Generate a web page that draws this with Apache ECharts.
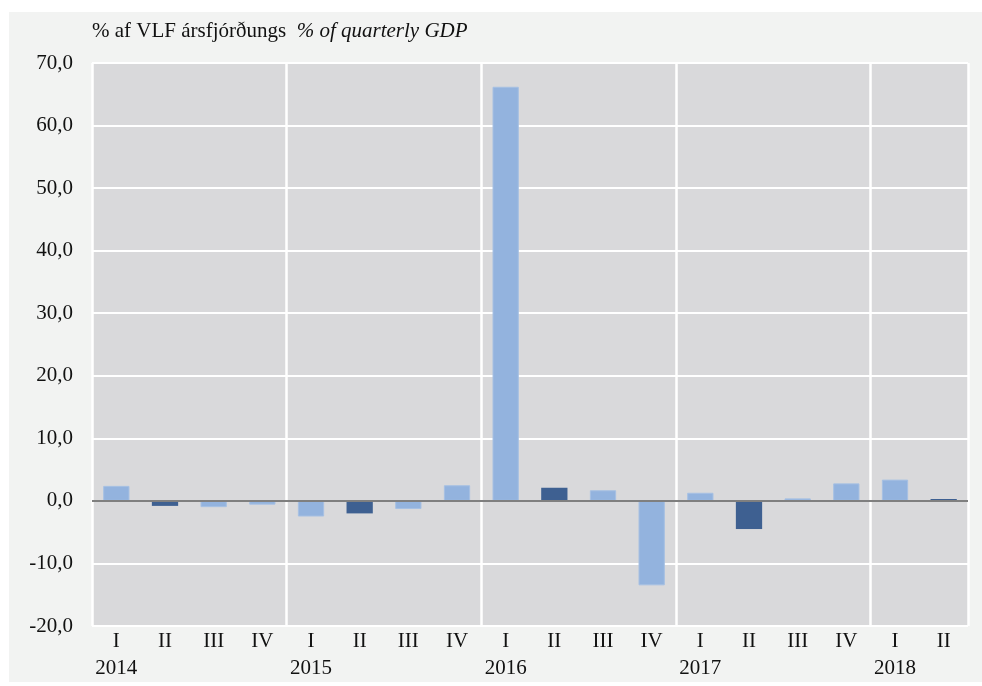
<!DOCTYPE html>
<html>
<head>
<meta charset="utf-8">
<script src="https://cdn.jsdelivr.net/npm/echarts@6/dist/echarts.min.js"></script>
</head>
<body style="margin:0; background:#ffffff;">
<div id="main" style="position:absolute; left:9px; top:12px; width:973px; height:670px; background:#f2f3f2;"></div>
<script type="text/javascript">
// ársfjórðungar og ár
var quarters = ['I', 'II', 'III', 'IV', 'I', 'II', 'III', 'IV', 'I', 'II', 'III', 'IV', 'I', 'II', 'III', 'IV', 'I', 'II'];
var years = ['2014', '', '', '', '2015', '', '', '', '2016', '', '', '', '2017', '', '', '', '2018', ''];
var values = [2.4, -0.8, -1.0, -0.6, -2.5, -2.0, -1.3, 2.5, 66.2, 2.1, 1.7, -13.5, 1.3, -4.5, 0.4, 2.8, 3.4, 0.3];
var darkIdx = [1, 5, 9, 13, 17];   // II ársfjórðungur dekkri
var yTicks = { min: -20, max: 70, interval: 10 };

var categories = quarters.map(function (q, i) { return q + '\n' + years[i]; });

var myChart = echarts.init(document.getElementById('main'));
var option = {
    animation: false,
    textStyle: { fontFamily: 'Liberation Serif' },
    title: {
        text: '% af VLF ársfjórðungs  {i|% of quarterly GDP}',
        left: 78,
        top: 4,
        textStyle: {
            fontSize: 21, fontWeight: 'normal', color: '#111', fontFamily: 'Liberation Serif',
            rich: { i: { fontStyle: 'italic', fontSize: 21, color: '#111', fontFamily: 'Liberation Serif' } }
        }
    },
    grid: {
        left: 83, right: 14, top: 51, bottom: 56,
        outerBoundsMode: 'none',
        show: true, backgroundColor: '#d9d9db', borderWidth: 0
    },
    xAxis: {
        type: 'category',
        data: categories,
        axisLine: { show: false },
        axisTick: { show: false },
        splitLine: {
            show: true,
            interval: function (i) { return i % 4 === 0; },
            lineStyle: { color: '#ffffff', width: 2.5 }
        },
        axisLabel: {
            interval: 0,
            margin: 2,
            color: '#111',
            fontSize: 21,
            lineHeight: 27,
            fontFamily: 'Liberation Serif'
        }
    },
    yAxis: {
        type: 'value',
        min: yTicks.min, max: yTicks.max, interval: yTicks.interval,
        axisLine: { show: false },
        axisTick: { show: false },
        splitLine: { lineStyle: { color: '#ffffff', width: 2 } },
        axisLabel: {
            color: '#111', fontSize: 21, margin: 19, fontFamily: 'Liberation Serif',
            formatter: function (v) { return v.toFixed(1).replace('.', ','); }
        }
    },
    series: [{
        type: 'bar',
        barWidth: '54%',
        data: values.map(function (v, i) {
            return {
                value: v,
                itemStyle: darkIdx.indexOf(i) >= 0
                    ? { color: '#3e6091' }
                    : { color: '#93b3de', borderColor: '#a6c0e3', borderWidth: 1 }
            };
        }),
        markLine: {
            silent: true,
            symbol: 'none',
            label: { show: false },
            lineStyle: { color: '#7f7f7f', width: 2, type: 'solid' },
            data: [{ yAxis: 0 }]
        }
    }]
};
myChart.setOption(option);
</script>
</body>
</html>
